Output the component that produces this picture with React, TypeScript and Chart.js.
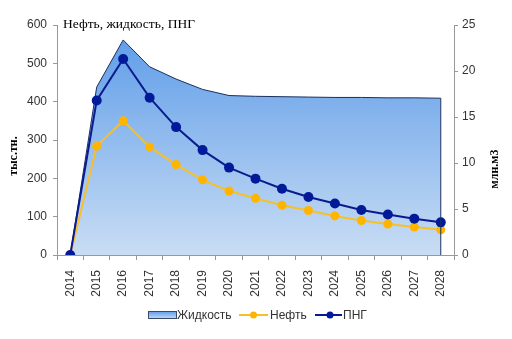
import React, { useEffect, useRef } from "react";
import { Chart, registerables } from "chart.js";

Chart.register(...registerables);

const years = ["2014","2015","2016","2017","2018","2019","2020","2021","2022","2023","2024","2025","2026","2027","2028"];
const liquid = [0, 438, 561, 491, 459, 432, 416, 414, 413, 412, 411, 411, 410, 410, 409];
const oil = [0, 284, 350, 282, 236, 196, 167, 148, 130, 116, 102, 90, 81, 73, 66];
const gas = [0, 16.8, 21.3, 17.1, 13.9, 11.4, 9.5, 8.3, 7.2, 6.3, 5.6, 4.9, 4.4, 3.95, 3.55];

const chartTitle = "Нефть, жидкость, ПНГ";
const leftTitle = "тыс.тн.";
const rightTitle = "млн.м3";
const legendLabels = ["Жидкость", "Нефть", "ПНГ"];

const tickFont = "'Liberation Sans', Arial, sans-serif";
const serif = "'Liberation Serif', 'Times New Roman', serif";

const OIL_LINE = "#f5c02c";
const OIL_PT = "#ffb400";
const GAS_LINE = "#0a1a8f";
const GAS_PT = "#001a9a";
const AREA_BORDER = "#1c2f5e";

function areaGradient(ctx: CanvasRenderingContext2D, top: number, bottom: number) {
  const g = ctx.createLinearGradient(0, top, 0, bottom);
  g.addColorStop(0, "#5a9ae8");
  g.addColorStop(1, "#c9ddf4");
  return g;
}

const extrasPlugin = {
  id: "extras",
  afterDatasetsDraw(chart: any) {
    const ctx = chart.ctx as CanvasRenderingContext2D;
    const meta = chart.getDatasetMeta(0);
    const pts = meta.data;
    const last = pts[pts.length - 1];
    const y0 = chart.scales.y.getPixelForValue(0);
    ctx.save();
    ctx.strokeStyle = AREA_BORDER;
    ctx.lineWidth = 1;
    ctx.beginPath();
    ctx.moveTo(last.x, last.y);
    ctx.lineTo(last.x, y0);
    ctx.stroke();
    ctx.restore();
  },
  afterDraw(chart: any) {
    const ctx = chart.ctx as CanvasRenderingContext2D;
    ctx.save();
    // chart title
    ctx.fillStyle = "#000";
    ctx.font = `13.5px ${serif}`;
    ctx.textBaseline = "alphabetic";
    ctx.textAlign = "left";
    ctx.fillText(chartTitle, 63, 28);
    // axis titles
    ctx.font = `bold 12px ${serif}`;
    ctx.textAlign = "center";
    ctx.textBaseline = "middle";
    ctx.save();
    ctx.translate(14, 156);
    ctx.rotate(-Math.PI / 2);
    ctx.fillText(leftTitle, 0, 0);
    ctx.restore();
    ctx.save();
    ctx.translate(495, 169);
    ctx.rotate(-Math.PI / 2);
    ctx.fillText(rightTitle, 0, 0);
    ctx.restore();

    // legend
    const ly = 315;
    ctx.font = `12px ${tickFont}`;
    ctx.textAlign = "left";
    ctx.textBaseline = "middle";
    ctx.fillStyle = areaGradient(ctx, ly - 4, ly + 4);
    ctx.fillRect(148, ly - 3, 28, 7);
    ctx.strokeStyle = "#3a4a6a";
    ctx.lineWidth = 1;
    ctx.strokeRect(148.5, ly - 3.5, 28, 7);
    ctx.fillStyle = "#333";
    ctx.fillText(legendLabels[0], 177, ly + 1);
    ctx.strokeStyle = OIL_LINE;
    ctx.lineWidth = 2;
    ctx.beginPath();
    ctx.moveTo(239, ly);
    ctx.lineTo(268, ly);
    ctx.stroke();
    ctx.fillStyle = OIL_PT;
    ctx.beginPath();
    ctx.arc(253.5, ly, 3.5, 0, Math.PI * 2);
    ctx.fill();
    ctx.fillStyle = "#333";
    ctx.fillText(legendLabels[1], 270, ly + 1);
    ctx.strokeStyle = GAS_LINE;
    ctx.lineWidth = 2;
    ctx.beginPath();
    ctx.moveTo(315, ly);
    ctx.lineTo(342, ly);
    ctx.stroke();
    ctx.fillStyle = GAS_PT;
    ctx.beginPath();
    ctx.arc(330, ly, 3.5, 0, Math.PI * 2);
    ctx.fill();
    ctx.fillStyle = "#333";
    ctx.fillText(legendLabels[2], 343, ly + 1);
    ctx.restore();
  },
};

export default function App() {
  const ref = useRef<HTMLCanvasElement>(null);
  useEffect(() => {
    document.body.style.margin = "0";
    const canvas = ref.current!;
    const chart = new Chart(canvas, {
      type: "line",
      data: {
        labels: years,
        datasets: [
          {
            label: legendLabels[0],
            data: liquid,
            yAxisID: "y",
            order: 3,
            fill: "origin",
            borderColor: AREA_BORDER,
            borderWidth: 1,
            tension: 0,
            pointRadius: 0,
            backgroundColor: (c: any) => {
              const a = c.chart.chartArea;
              if (!a) return "#8fbbef";
              return areaGradient(c.chart.ctx, a.top, a.bottom);
            },
          },
          {
            label: legendLabels[1],
            data: oil,
            yAxisID: "y",
            order: 2,
            fill: false,
            borderColor: OIL_LINE,
            borderWidth: 2,
            pointRadius: 4.5,
            pointBackgroundColor: OIL_PT,
            pointBorderColor: OIL_PT,
            pointBorderWidth: 0,
            tension: 0,
          },
          {
            label: legendLabels[2],
            data: gas,
            yAxisID: "y1",
            order: 1,
            fill: false,
            borderColor: GAS_LINE,
            borderWidth: 2,
            pointRadius: 5,
            pointBackgroundColor: GAS_PT,
            pointBorderColor: GAS_PT,
            pointBorderWidth: 0,
            tension: 0,
          },
        ],
      },
      options: {
        animation: false,
        responsive: false,
        maintainAspectRatio: false,
        layout: { padding: { top: 25, left: 0, right: 0, bottom: 0 } },
        plugins: {
          legend: { display: false },
          title: { display: false },
          tooltip: { enabled: false },
        },
        scales: {
          x: {
            offset: true,
            grid: {
              offset: true,
              drawOnChartArea: false,
              drawTicks: true,
              tickLength: 5,
              color: "#999",
            },
            border: { color: "#999", width: 1 },
            ticks: {
              autoSkip: false,
              minRotation: 90,
              maxRotation: 90,
              padding: 10,
              color: "#333",
              font: { family: tickFont, size: 12 },
            },
            afterFit: (s: any) => { s.height = 84; },
          },
          y: {
            position: "left",
            min: 0,
            max: 600,
            ticks: {
              stepSize: 100,
              padding: 6,
              color: "#333",
              font: { family: tickFont, size: 12 },
            },
            grid: { drawOnChartArea: false, drawTicks: true, tickLength: 4, color: "#999" },
            border: { color: "#999", width: 1 },
            afterFit: (s: any) => { s.width = 57; },
          },
          y1: {
            position: "right",
            min: 0,
            max: 25,
            ticks: {
              stepSize: 5,
              padding: 4,
              color: "#333",
              font: { family: tickFont, size: 12 },
            },
            grid: { drawOnChartArea: false, drawTicks: true, tickLength: 4, color: "#999" },
            border: { color: "#999", width: 1 },
            afterFit: (s: any) => { s.width = 58; },
          },
        },
      },
      plugins: [extrasPlugin],
    });
    return () => chart.destroy();
  }, []);
  return (
    <div style={{ position: "fixed", left: 0, top: 0, width: 512, height: 339, background: "#fff" }}>
      <canvas ref={ref} width={512} height={339} style={{ width: 512, height: 339 }} />
    </div>
  );
}
